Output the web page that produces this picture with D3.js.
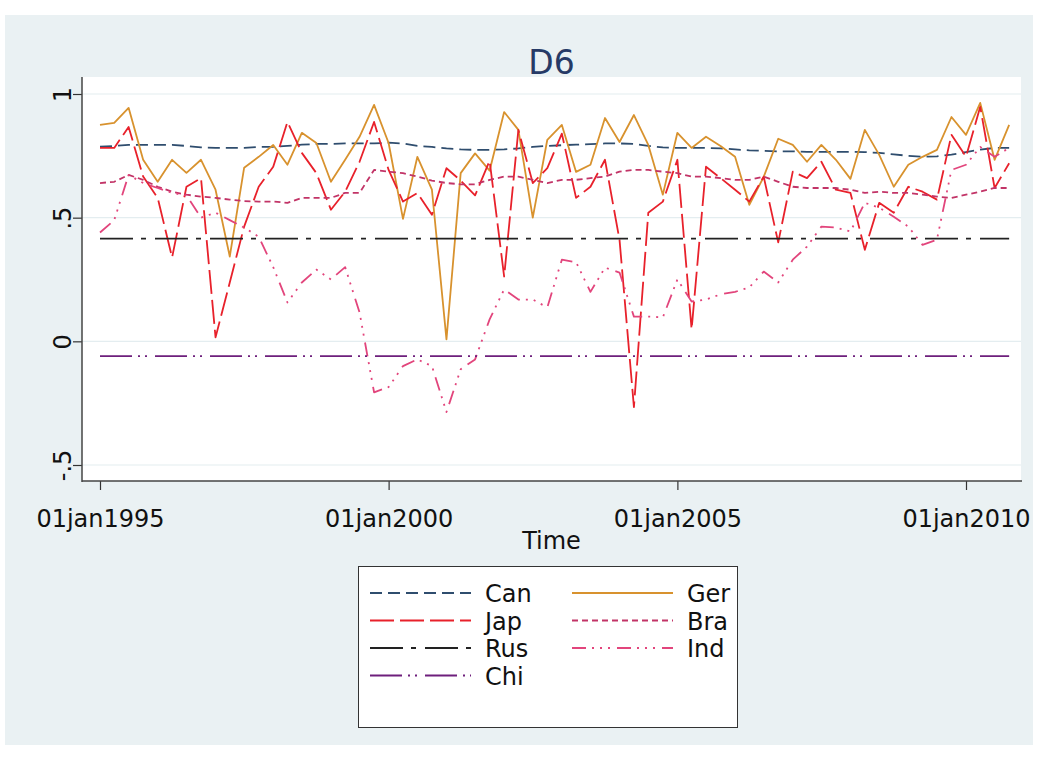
<!DOCTYPE html>
<html>
<head>
<meta charset="utf-8">
<script src="https://cdn.jsdelivr.net/npm/d3@7"></script>
<style>
  body { margin: 0; background: #fff; }
  text { font-family: "DejaVu Sans", "Liberation Sans", Arial, sans-serif; }
</style>
</head>
<body>
<div id="chart"></div>
<script>
// quarterly correlations, 1995q1 - 2010q4
const can = [0.787, 0.79, 0.794, 0.794, 0.794, 0.794, 0.79, 0.784, 0.782, 0.782,
  0.782, 0.786, 0.786, 0.79, 0.795, 0.798, 0.798, 0.8, 0.8, 0.8,
  0.803, 0.8, 0.79, 0.786, 0.78, 0.776, 0.774, 0.774, 0.776, 0.78,
  0.786, 0.79, 0.793, 0.795, 0.797, 0.8, 0.8, 0.798, 0.79, 0.784,
  0.782, 0.782, 0.782, 0.78, 0.776, 0.772, 0.77, 0.768, 0.768, 0.766,
  0.766, 0.766, 0.766, 0.765, 0.762, 0.756, 0.75, 0.746, 0.748, 0.755,
  0.765, 0.775, 0.782, 0.782];
const ger = [0.875, 0.883, 0.944, 0.734, 0.645, 0.734, 0.681, 0.734, 0.613, 0.343,
  0.702, 0.746, 0.794, 0.714, 0.843, 0.802, 0.645, 0.734, 0.827, 0.956,
  0.802, 0.495, 0.746, 0.613, 0.008, 0.68, 0.76, 0.69, 0.927, 0.855,
  0.5, 0.815, 0.875, 0.685, 0.714, 0.903, 0.806, 0.915, 0.794, 0.593,
  0.843, 0.782, 0.827, 0.79, 0.746, 0.552, 0.665, 0.819, 0.794, 0.726,
  0.794, 0.734, 0.657, 0.855, 0.754, 0.625, 0.714, 0.746, 0.774, 0.907,
  0.835, 0.964, 0.734, 0.875];
const jap = [0.782, 0.782, 0.867, 0.666, 0.58, 0.339, 0.625, 0.66, 0.016, 0.238,
  0.464, 0.625, 0.706, 0.887, 0.762, 0.68, 0.532, 0.605, 0.726, 0.887,
  0.693, 0.565, 0.6, 0.512, 0.7, 0.65, 0.59, 0.73, 0.262, 0.855,
  0.64, 0.7, 0.84, 0.58, 0.625, 0.734, 0.41, -0.266, 0.52, 0.565,
  0.734, 0.048, 0.706, 0.66, 0.613, 0.565, 0.666, 0.4, 0.686, 0.66,
  0.726, 0.613, 0.6, 0.37, 0.56, 0.52, 0.625, 0.605, 0.573, 0.835,
  0.746, 0.948, 0.62, 0.72];
const bra = [0.64, 0.645, 0.673, 0.653, 0.625, 0.605, 0.593, 0.585, 0.58, 0.573,
  0.567, 0.565, 0.565, 0.56, 0.58, 0.58, 0.58, 0.6, 0.6, 0.693,
  0.686, 0.68, 0.666, 0.65, 0.64, 0.635, 0.635, 0.653, 0.666, 0.666,
  0.653, 0.64, 0.653, 0.653, 0.66, 0.666, 0.686, 0.693, 0.693, 0.686,
  0.68, 0.666, 0.666, 0.66, 0.653, 0.653, 0.666, 0.645, 0.625, 0.62,
  0.62, 0.62, 0.613, 0.6, 0.605, 0.6, 0.6, 0.593, 0.585, 0.58,
  0.593, 0.605, 0.62, 0.62];
const ind = [0.44, 0.49, 0.673, 0.64, 0.62, 0.6, 0.59, 0.5, 0.52, 0.49,
  0.46, 0.423, 0.3, 0.157, 0.238, 0.29, 0.25, 0.3, 0.117, -0.206,
  -0.185, -0.1, -0.073, -0.1, -0.286, -0.113, -0.073, 0.089, 0.21, 0.169,
  0.169, 0.137, 0.33, 0.32, 0.2, 0.298, 0.278, 0.1, 0.1, 0.097,
  0.25, 0.161, 0.169, 0.19, 0.2, 0.218, 0.282, 0.238, 0.33, 0.383,
  0.464, 0.46, 0.444, 0.56, 0.54, 0.504, 0.464, 0.39, 0.411, 0.693,
  0.714, 0.786, 0.746, 0.782];
// constant over the whole period
const rusLevel = 0.415;
const chiLevel = -0.06;

const yTicks = [-0.5, 0, 0.5, 1];
const xTickYears = [1995, 2000, 2005, 2010];

const quarters = d3.timeMonth.every(3).range(new Date(1995, 0, 1), new Date(2011, 0, 1));

const series = [
  { name: "Can", values: can, color: "#2f4d6e", dash: "12,6" },
  { name: "Ger", values: ger, color: "#d8922e", dash: null },
  { name: "Jap", values: jap, color: "#e8212b", dash: "24,6" },
  { name: "Bra", values: bra, color: "#c23467", dash: "6,4" },
  { name: "Rus", level: rusLevel, color: "#222222", dash: "33,8,5,9" },
  { name: "Ind", values: ind, color: "#e2457c", dash: "14,6,2,6,2,6,2,7" },
  { name: "Chi", level: chiLevel, color: "#6e1f7c", dash: "32,6,2,5,2,8" }
];

const W = 1038, H = 759;
const plot = { left: 82, right: 1021, top: 77, bottom: 481 };
const fontSize = 24;

const svg = d3.select("#chart").append("svg")
  .attr("width", W)
  .attr("height", H);

// graph region
svg.append("rect")
  .attr("x", 5).attr("y", 15)
  .attr("width", 1028).attr("height", 730)
  .attr("fill", "#eaf1f3");

svg.append("rect")
  .attr("x", plot.left).attr("y", plot.top)
  .attr("width", plot.right - plot.left).attr("height", plot.bottom - plot.top)
  .attr("fill", "#ffffff");

const x = d3.scaleTime()
  .domain([new Date(1995, 0, 1), new Date(2010, 0, 1)])
  .range([100, 966]);

const y = d3.scaleLinear()
  .domain([-0.5, 1])
  .range([465, 94]);

// grid
svg.append("g")
  .selectAll("line")
  .data(yTicks)
  .join("line")
  .attr("x1", plot.left).attr("x2", plot.right)
  .attr("y1", d => y(d)).attr("y2", d => y(d))
  .attr("stroke", "#e4edf0")
  .attr("stroke-width", 1.2);

// lines
const line = d3.line()
  .x((d, i) => x(quarters[i]))
  .y(d => y(d));

series.forEach(s => {
  const path = svg.append("path")
    .attr("fill", "none")
    .attr("stroke", s.color)
    .attr("stroke-width", 1.8)
    .attr("stroke-linejoin", "round");
  if (s.values) {
    path.attr("d", line(s.values));
  } else {
    const first = quarters[0], last = quarters[quarters.length - 1];
    path.attr("d", `M${x(first)},${y(s.level)}L${x(last)},${y(s.level)}`);
  }
  if (s.dash) path.attr("stroke-dasharray", s.dash);
});

// axes
const fmtDate = d3.timeFormat("%d%b%Y");
const xAxis = d3.axisBottom(x)
  .tickValues(xTickYears.map(yr => new Date(yr, 0, 1)))
  .tickFormat(d => fmtDate(d).toLowerCase())
  .tickSize(9);

const yAxis = d3.axisLeft(y)
  .tickValues(yTicks)
  .tickFormat(d => d === 0 ? "0" : String(d).replace("0.", "."))
  .tickSize(9);

const gx = svg.append("g")
  .attr("transform", `translate(0, ${plot.bottom})`)
  .call(xAxis);
gx.select(".domain").remove();
gx.selectAll(".tick line").attr("stroke", "#333").attr("stroke-width", 1.2);
gx.selectAll(".tick text")
  .attr("font-size", fontSize)
  .attr("fill", "#111")
  .attr("font-family", "DejaVu Sans, sans-serif")
  .attr("y", 46).attr("dy", null);

const gy = svg.append("g")
  .attr("transform", `translate(${plot.left}, 0)`)
  .call(yAxis);
gy.select(".domain").remove();
gy.selectAll(".tick line").attr("stroke", "#333").attr("stroke-width", 1.2);
gy.selectAll(".tick text")
  .attr("font-size", fontSize)
  .attr("fill", "#111")
  .attr("font-family", "DejaVu Sans, sans-serif")
  .attr("x", null).attr("dy", null)
  .attr("text-anchor", "middle")
  .attr("transform", "translate(-11, 0) rotate(-90)");

// axis lines
svg.append("line")
  .attr("x1", plot.left).attr("x2", plot.left)
  .attr("y1", plot.top).attr("y2", plot.bottom + 1)
  .attr("stroke", "#444").attr("stroke-width", 1.5);
svg.append("line")
  .attr("x1", plot.left).attr("x2", plot.right + 1)
  .attr("y1", plot.bottom).attr("y2", plot.bottom)
  .attr("stroke", "#444").attr("stroke-width", 1.5);

svg.append("text")
  .attr("x", (plot.left + plot.right) / 2)
  .attr("y", 549)
  .attr("text-anchor", "middle")
  .attr("font-size", fontSize)
  .attr("fill", "#111")
  .text("Time");

svg.append("text")
  .attr("x", (plot.left + plot.right) / 2)
  .attr("y", 74)
  .attr("text-anchor", "middle")
  .attr("font-size", 33)
  .attr("fill", "#263a66")
  .text("D6");

// legend
const legendOrder = ["Can", "Ger", "Jap", "Bra", "Rus", "Ind", "Chi"];
const legend = svg.append("g");
legend.append("rect")
  .attr("x", 358.5).attr("y", 566.5)
  .attr("width", 379).attr("height", 161)
  .attr("fill", "#fff")
  .attr("stroke", "#333")
  .attr("stroke-width", 1);

legendOrder.forEach((name, i) => {
  const s = series.find(d => d.name === name);
  const col = i % 2, row = Math.floor(i / 2);
  const lx = col === 0 ? 370 : 572;
  const ly = 593 + row * 27.5;
  const l = legend.append("line")
    .attr("x1", lx).attr("x2", lx + 101)
    .attr("y1", ly).attr("y2", ly)
    .attr("stroke", s.color)
    .attr("stroke-width", 1.8);
  if (s.dash) l.attr("stroke-dasharray", s.dash);
  legend.append("text")
    .attr("x", lx + 115)
    .attr("y", ly + 9)
    .attr("font-size", fontSize)
    .attr("fill", "#111")
    .text(name);
});
</script>
</body>
</html>
